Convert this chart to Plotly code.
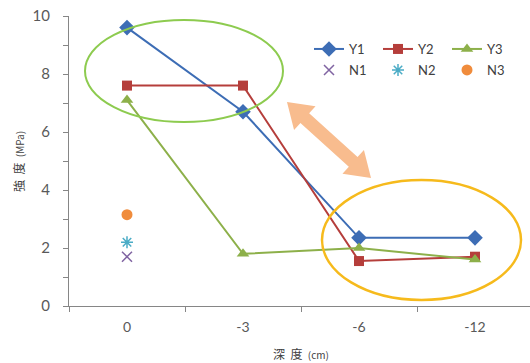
import math
import plotly.graph_objects as go

# depth categories (cm) and strength values (MPa)
depths = ["0", "-3", "-6", "-12"]
y1 = [9.6, 6.7, 2.35, 2.35]
y2 = [7.6, 7.6, 1.55, 1.7]
y3 = [7.1, 1.8, 2.0, 1.6]
n_depth = ["0"]
n1 = [1.7]
n2 = [2.2]
n3 = [3.15]

W, H = 530, 363
ML, MR, MT, MB = 69, 0, 16, 57
XR = [-0.5, 3.474]
YR = [0, 10]

fig = go.Figure()

def line_trace(vals, name, color, symbol, size):
    return go.Scatter(
        x=depths, y=vals, name=name, mode="lines+markers",
        line=dict(color=color, width=2),
        marker=dict(symbol=symbol, size=size, color=color),
        legend="legend",
    )

fig.add_trace(line_trace(y1, "Y1", "#3D6DB5", "diamond", 12))
fig.add_trace(line_trace(y2, "Y2", "#B53E3B", "square", 10))
fig.add_trace(line_trace(y3, "Y3", "#8DB04A", "triangle-up", 11))

fig.add_trace(go.Scatter(x=n_depth, y=n1, name="N1", mode="markers",
                         marker=dict(symbol="x-thin-open", size=10, color="#8064A2",
                                     line=dict(color="#8064A2", width=1.5)),
                         legend="legend2"))
fig.add_trace(go.Scatter(x=n_depth, y=n2, name="N2", mode="markers",
                         marker=dict(symbol="asterisk-open", size=10, color="#4BACC6",
                                     line=dict(color="#4BACC6", width=1.5)),
                         legend="legend2"))
fig.add_trace(go.Scatter(x=n_depth, y=n3, name="N3", mode="markers",
                         marker=dict(symbol="circle", size=11, color="#F08C3C"),
                         legend="legend2"))

# pixel <-> data helpers for the decorative shapes
pw = W - ML - MR
ph = H - MT - MB
def px2x(px):
    return XR[0] + (px - ML) / pw * (XR[1] - XR[0])
def py2y(py):
    return YR[0] + (H - MB - py) / ph * (YR[1] - YR[0])

shapes = []
# highlight ellipses
shapes.append(dict(type="circle", xref="x", yref="y",
                   x0=px2x(85), x1=px2x(283), y0=py2y(122), y1=py2y(20),
                   line=dict(color="#8DCB4F", width=2)))
shapes.append(dict(type="circle", xref="x", yref="y",
                   x0=px2x(322), x1=px2x(521), y0=py2y(300), y1=py2y(180),
                   line=dict(color="#F6BA1C", width=2.5)))

# double-headed arrow between the two groups
ax0, ay0 = 287, 102
ax1, ay1 = 371, 178
dx, dy = ax1 - ax0, ay1 - ay0
L = math.hypot(dx, dy)
ux, uy = dx / L, dy / L
nx, ny = -uy, ux
shaft = 6.5
head = 16
hl = 24
pts_local = [
    (0, 0), (hl, head), (hl, shaft), (L - hl, shaft), (L - hl, head),
    (L, 0), (L - hl, -head), (L - hl, -shaft), (hl, -shaft), (hl, -head),
]
pts = [(ax0 + a * ux + b * nx, ay0 + a * uy + b * ny) for a, b in pts_local]
path = "M " + " L ".join(f"{px2x(p[0]):.4f},{py2y(p[1]):.4f}" for p in pts) + " Z"
shapes.append(dict(type="path", xref="x", yref="y", path=path,
                   fillcolor="#F8BC8E", line=dict(width=0), layer="below"))

axis_col = "#868686"
txt_col = "#595959"
sp = "&nbsp;"

fig.update_layout(
    width=W, height=H,
    margin=dict(l=ML, r=MR, t=MT, b=MB),
    paper_bgcolor="white", plot_bgcolor="white",
    font=dict(family="Lato, Liberation Sans, sans-serif", color=txt_col, size=14),
    shapes=shapes,
    showlegend=True,
    legend=dict(orientation="h", x=(309 - ML) / pw, y=py2y(49) / 10,
                xanchor="left", yanchor="middle", entrywidth=24,
                font=dict(size=13, color="#404040"), bgcolor="rgba(0,0,0,0)",
                itemwidth=30),
    legend2=dict(orientation="h", x=(309 - ML) / pw, y=py2y(70) / 10,
                 xanchor="left", yanchor="middle", entrywidth=24,
                 font=dict(size=13, color="#404040"), bgcolor="rgba(0,0,0,0)",
                 itemwidth=30),
    xaxis=dict(type="category", range=XR, showline=True, linecolor=axis_col,
               linewidth=1.3, ticks="outside", ticklen=5, tickcolor=axis_col,
               tickson="boundaries", showgrid=False, zeroline=False,
               ticklabelstandoff=8, tickfont=dict(size=14, color=txt_col)),
    yaxis=dict(range=YR, showline=True, linecolor=axis_col, linewidth=1.3,
               ticks="outside", ticklen=5, tickcolor=axis_col, dtick=2,
               minor=dict(dtick=1, ticks="outside", ticklen=5, tickcolor=axis_col),
               showgrid=False, zeroline=False, ticklabelstandoff=10,
               tickfont=dict(size=15, color=txt_col)),
    annotations=[
        dict(text=f"深{sp*2}度{sp*2}<span style='font-size:10px'>(cm)</span>",
             xref="paper", yref="paper",
             x=(301 - ML) / pw, y=-(353 - (H - MB)) / ph, showarrow=False,
             xanchor="center", yanchor="middle",
             font=dict(family="Noto Sans CJK JP", size=12, color="#404040")),
        dict(text=f"強{sp*2}度{sp*2}<span style='font-size:10px'>(MPa)</span>",
             xref="paper", yref="paper",
             x=-(ML - 18) / pw, y=((H - MB) - 162) / ph, showarrow=False,
             textangle=-90, xanchor="center", yanchor="middle",
             font=dict(family="Noto Sans CJK JP", size=12, color="#404040")),
    ],
)

fig.write_html("out.html")
